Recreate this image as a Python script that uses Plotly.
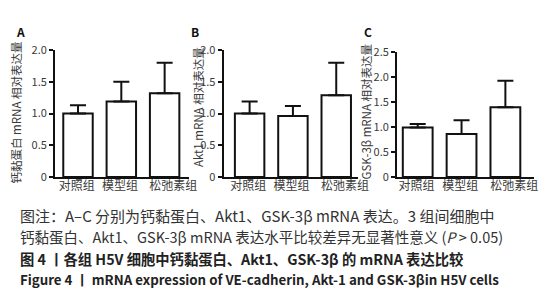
import plotly.graph_objects as go

groups = ["对照组", "模型组", "松弛素组"]
# Panel A: VE-cadherin (钙黏蛋白)
a_mean = [1.00, 1.19, 1.32]
a_upper = [1.13, 1.50, 1.80]
# Panel B: Akt1
b_mean = [1.00, 0.96, 1.29]
b_upper = [1.19, 1.12, 1.80]
# Panel C: GSK-3β
c_mean = [0.99, 0.86, 1.40]
c_upper = [1.06, 1.14, 1.93]

ab_ticks = [0, 0.5, 1.0, 1.5, 2.0]
ab_ticktext = ["0", "0.5", "1.0", "1.5", "2.0"]
c_ticks = [0, 0.5, 1.0, 1.5, 2.0, 2.5]
c_ticktext = ["0", "0.5", "1.0", "1.5", "2.0", "2.5"]

W, H = 553, 300
FONT = "Noto Sans CJK SC"
TXT = "#3a3a3a"
LABEL_POS = [-0.03, 0.97, 2.2]  # category label placement along x

def px(x):
    return x / W

def py(y):
    return 1 - y / H

fig = go.Figure()

panels = [
    dict(mean=a_mean, up=a_upper, xd=[48, 185], xr=[-0.53, 2.57], yd=[169, 35], yr=[0, 2.0],
         tv=ab_ticks, tt=ab_ticktext, letter="A", lx=13, title="钙黏蛋白 mRNA 相对表达量", tx=8, ty=101),
    dict(mean=b_mean, up=b_upper, xd=[220, 357], xr=[-0.6, 2.5], yd=[169, 35], yr=[0, 2.0],
         tv=ab_ticks, tt=ab_ticktext, letter="B", lx=191, title="Akt1 mRNA 相对表达量", tx=194, ty=95),
    dict(mean=c_mean, up=c_upper, xd=[397, 537], xr=[-0.47, 2.66], yd=[169, 37.3], yr=[0, 2.5],
         tv=c_ticks, tt=c_ticktext, letter="C", lx=367, title="GSK-3β mRNA 相对表达量", tx=365, ty=100),
]

annotations = []
for i, p in enumerate(panels, start=1):
    xa = "x" if i == 1 else f"x{i}"
    ya = "y" if i == 1 else f"y{i}"
    err = [u - m for u, m in zip(p["up"], p["mean"])]
    fig.add_trace(go.Bar(
        x=[0, 1, 2], y=p["mean"], xaxis=xa, yaxis=ya, width=0.68,
        marker=dict(color="white", line=dict(color="#111111", width=2)),
        error_y=dict(type="data", array=err, arrayminus=[0, 0, 0], symmetric=False,
                     color="#111111", thickness=2, width=8),
        showlegend=False, hoverinfo="skip",
    ))
    key = "" if i == 1 else str(i)
    fig.update_layout(**{
        f"xaxis{key}": dict(domain=[px(p["xd"][0]), px(p["xd"][1])], range=p["xr"],
                            anchor=ya, tickvals=LABEL_POS, ticktext=groups, tickangle=0,
                            ticklabelstandoff=-3,
                            showline=True, linecolor="#111111", linewidth=2, ticks="",
                            showgrid=False, zeroline=False,
                            tickfont=dict(family=FONT, size=12, color=TXT), fixedrange=True),
        f"yaxis{key}": dict(domain=[py(p["yd"][0]), py(p["yd"][1])], range=p["yr"],
                            anchor=xa, tickvals=p["tv"], ticktext=p["tt"],
                            showline=True, linecolor="#111111", linewidth=2,
                            ticks="outside", ticklen=4, tickwidth=2, tickcolor="#111111",
                            showgrid=False, zeroline=False,
                            tickfont=dict(family=FONT, size=11, color=TXT), fixedrange=True),
    })
    annotations.append(dict(text=f"<b>{p['letter']}</b>", x=px(p["lx"]), y=py(15), xref="paper", yref="paper",
                            showarrow=False, xanchor="center", yanchor="middle",
                            font=dict(family=FONT, size=12, color="#111111")))
    annotations.append(dict(text=p["title"], x=px(p["tx"]), y=py(p["ty"]), xref="paper", yref="paper",
                            showarrow=False, textangle=-90, xanchor="center", yanchor="middle",
                            font=dict(family=FONT, size=11.5, color=TXT)))

captions = [
    ("图注：A–C 分别为钙黏蛋白、Akt1、GSK-3β mRNA 表达。3 组间细胞中", 210, False, "#333333", 15),
    ("钙黏蛋白、Akt1、GSK-3β mRNA 表达水平比较差异无显著性意义 (<i>P</i> > 0.05)", 232, False, "#333333", 14.5),
    ("图 4 丨各组 H5V 细胞中钙黏蛋白、Akt1、GSK-3β 的 mRNA 表达比较", 255, True, "#222222", 14.3),
    ("Figure 4 丨 mRNA expression of VE-cadherin, Akt-1 and GSK-3βin H5V cells", 277, True, "#222222", 13.3),
]
for text, y, bold, col, sz in captions:
    annotations.append(dict(text=f"<b>{text}</b>" if bold else text, x=px(10), y=py(y),
                            xref="paper", yref="paper", showarrow=False,
                            xanchor="left", yanchor="middle",
                            font=dict(family=FONT, size=sz, color=col)))

fig.update_layout(
    width=W, height=H, margin=dict(l=0, r=0, t=0, b=0),
    paper_bgcolor="white", plot_bgcolor="white",
    annotations=annotations, bargap=0.3,
)

fig.write_html("out.html", config={"displayModeBar": False})
